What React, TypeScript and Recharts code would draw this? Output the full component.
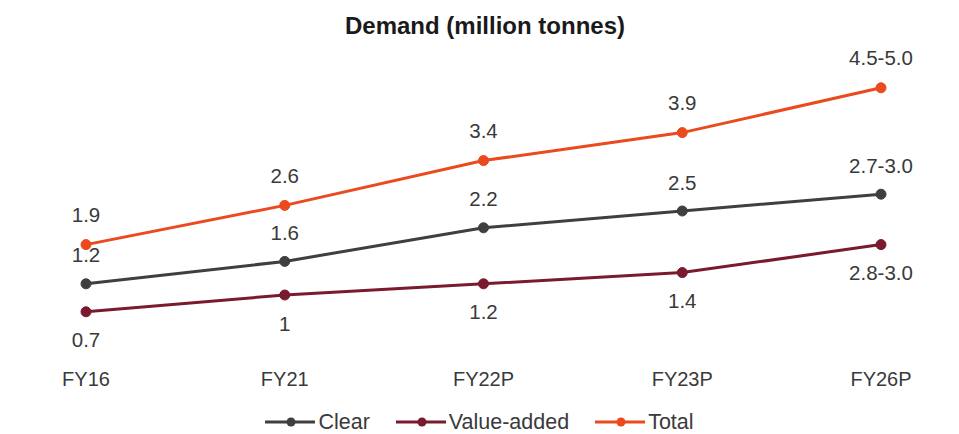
import React from 'react';
import { LineChart, Line, XAxis, YAxis, Legend, LabelList } from 'recharts';

const years = ['FY16', 'FY21', 'FY22P', 'FY23P', 'FY26P'];
const clear = [1.2, 1.6, 2.2, 2.5, 2.8];
const valueAdded = [0.7, 1.0, 1.2, 1.4, 1.9];
const total = [1.9, 2.6, 3.4, 3.9, 4.7];
const clearLabels = ['1.2', '1.6', '2.2', '2.5', '2.7-3.0'];
const valueAddedLabels = ['0.7', '1', '1.2', '1.4', '2.8-3.0'];
const totalLabels = ['1.9', '2.6', '3.4', '3.9', '4.5-5.0'];

const colors = {
  clear: '#3f3f3f',
  valueAdded: '#7a1a2f',
  total: '#ea4a1e',
};

const font = '"Liberation Sans", Arial, sans-serif';
const textColor = '#3a3a3a';

const data = years.map((y, i) => ({
  year: y,
  clear: clear[i],
  valueAdded: valueAdded[i],
  total: total[i],
  clearLabel: clearLabels[i],
  valueAddedLabel: valueAddedLabels[i],
  totalLabel: totalLabels[i],
}));

const makeLabel = (dy: number) => (props: any) => {
  const { x, y, value } = props;
  return (
    <text x={x} y={y + dy} textAnchor="middle" dominantBaseline="central" fontSize={20.5} fill={textColor} fontFamily={font}>
      {value}
    </text>
  );
};

const legendItems = [
  { name: 'Clear', color: colors.clear },
  { name: 'Value-added', color: colors.valueAdded },
  { name: 'Total', color: colors.total },
];

const renderLegend = () => (
  <div
    style={{
      display: 'flex',
      justifyContent: 'center',
      gap: 26,
      fontFamily: font,
      fontSize: 21.5,
      lineHeight: '22px',
      color: textColor,
    }}
  >
    {legendItems.map(item => (
      <div key={item.name} style={{ display: 'flex', alignItems: 'center' }}>
        <svg width={50} height={12} style={{ marginRight: 3 }}>
          <line x1={0} y1={6} x2={50} y2={6} stroke={item.color} strokeWidth={3} />
          <circle cx={26} cy={6} r={4.5} fill={item.color} />
        </svg>
        <span>{item.name}</span>
      </div>
    ))}
  </div>
);

export default function App() {
  return (
    <div style={{ position: 'absolute', left: 0, top: 0, width: 959, height: 434, background: '#fff' }}>
      <div
        style={{
          position: 'absolute',
          top: 12,
          left: 0,
          width: 970,
          textAlign: 'center',
          fontFamily: font,
          fontWeight: 'bold',
          fontSize: 24,
          color: '#1a1a1a',
        }}
      >
        Demand (million tonnes)
      </div>
      <LineChart width={959} height={434} data={data} margin={{ top: 71, right: 78, bottom: 43, left: 86 }}>
        <XAxis
          dataKey="year"
          axisLine={false}
          tickLine={false}
          tickMargin={15}
          height={40}
          tick={{ fontSize: 20, fill: textColor, fontFamily: font }}
        />
        <YAxis hide domain={[0, 5]} />
        <Legend
          verticalAlign="middle"
          align="center"
          content={renderLegend}
          wrapperStyle={{ top: 411, left: 0, width: 959 }}
        />
        <Line dataKey="clear" stroke={colors.clear} strokeWidth={3} dot={{ r: 5, fill: colors.clear, stroke: colors.clear, strokeWidth: 1 }} isAnimationActive={false}>
          <LabelList dataKey="clearLabel" content={makeLabel(-29)} />
        </Line>
        <Line dataKey="valueAdded" stroke={colors.valueAdded} strokeWidth={3} dot={{ r: 5, fill: colors.valueAdded, stroke: colors.valueAdded, strokeWidth: 1 }} isAnimationActive={false}>
          <LabelList dataKey="valueAddedLabel" content={makeLabel(28)} />
        </Line>
        <Line dataKey="total" stroke={colors.total} strokeWidth={3} dot={{ r: 5, fill: colors.total, stroke: colors.total, strokeWidth: 1 }} isAnimationActive={false}>
          <LabelList dataKey="totalLabel" content={makeLabel(-30)} />
        </Line>
      </LineChart>
    </div>
  );
}
